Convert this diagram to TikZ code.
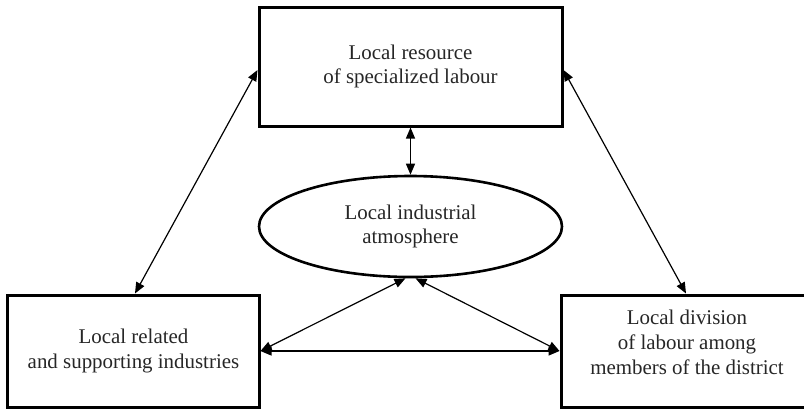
\documentclass[tikz,border=0pt]{standalone}
\usepackage{fontspec}
\setmainfont{Liberation Serif}
\usetikzlibrary{arrows.meta,shapes.geometric,calc}
\begin{document}
\begin{tikzpicture}[x=1bp,y=-1bp,
  box/.style={draw,line width=3bp,rectangle,inner sep=0pt,align=center,font=\fontsize{21}{25}\selectfont,text=black!85},
  oval/.style={draw,line width=2.6bp,ellipse,inner sep=0pt,align=center,font=\fontsize{21}{25}\selectfont,text=black!85},
  lbl/.style={align=center,inner sep=0pt,font=\fontsize{21}{25}\selectfont,text=black!85},
  link/.style={line width=1.2bp,{Triangle[length=11bp,width=9bp]}-{Triangle[length=11bp,width=9bp]}}]
\useasboundingbox (0,0) rectangle (804,408);
\node[box,minimum width=303bp,minimum height=119bp] (tb) at (410.5,66.5) {Local resource\\of specialized labour};
\node[oval,minimum width=303bp,minimum height=101bp] (el) at (410.5,226.5) {Local industrial\\atmosphere};
\node[box,minimum width=251bp,minimum height=112bp] (lb) at (133.5,351) {Local related\\and supporting industries};
\node[box,minimum width=252bp,minimum height=112bp] (rb) at (687,351) {};
\node[lbl] (rbt) at (687,342) {Local division\\of labour among\\members of the district};
\draw[link] ($(tb.west)+(0,3.5)$) -- ($(lb.north)+(1.5,0)$);
\draw[link] ($(tb.east)+(0,3.5)$) -- ($(rb.north)+(-1,0)$);
\draw[link] (tb.south) -- (el.north);
\draw[link] ($(el.south)+(-5,0)$) -- (lb.east);
\draw[link] ($(el.south)+(5,0)$) -- (rb.west);
\draw[link] (lb.east) -- (rb.west);
\end{tikzpicture}
\end{document}
